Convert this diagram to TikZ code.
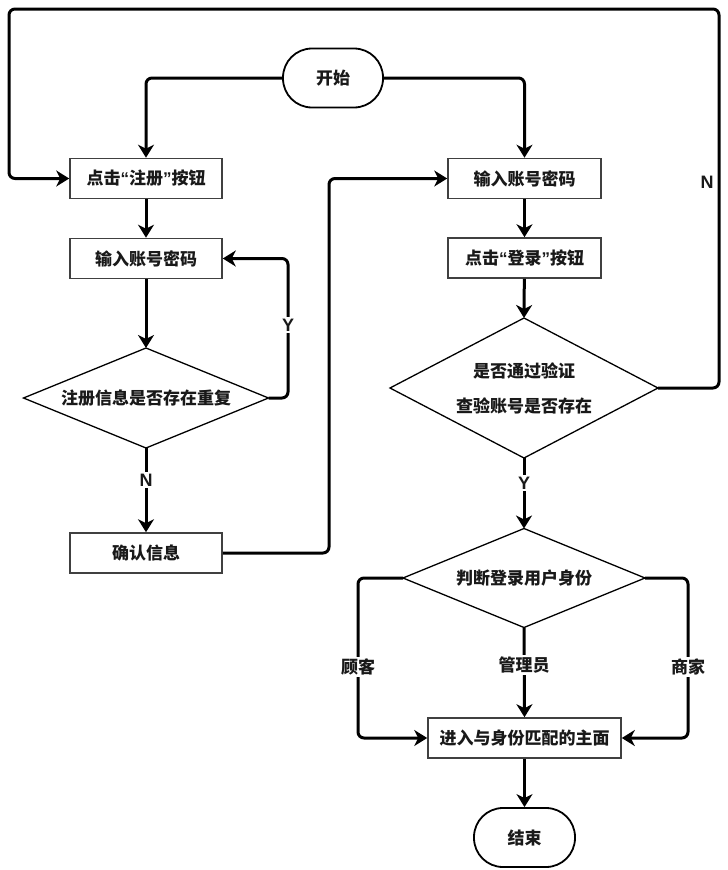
\documentclass[tikz,border=0pt]{standalone}
\usepackage{fontspec}
\setmainfont{Noto Sans CJK SC}
\newfontfamily\latf{Liberation Sans}
\usetikzlibrary{shapes.geometric,arrows.meta,calc}
\newcommand{\openq}{{\latf\bfseries “}}
\newcommand{\closeq}{{\latf\bfseries ”}}
\begin{document}
\begin{tikzpicture}[x=1pt,y=-1pt,
  every node/.style={font=\fontsize{17}{21}\selectfont\bfseries, text=black!90},
  box/.style={draw=black!75, line width=1.6pt, fill=white, minimum width=152pt, minimum height=40pt, inner sep=0pt},
  term/.style={draw=black, line width=1.8pt, fill=white, rounded corners=29pt, minimum width=100pt, minimum height=59pt, inner sep=0pt},
  dia/.style={draw=black, line width=1.3pt, fill=white, diamond, inner sep=0pt, outer sep=0pt},
  conn/.style={draw=black, line width=3pt, rounded corners=6pt, -{Stealth[length=13pt,width=16pt,inset=4pt]}},
  lbl/.style={fill=white, inner sep=2pt},
  yn/.style={font=\latf\fontsize{18}{21}\selectfont\bfseries}]
\useasboundingbox (0,0) rectangle (728,870);

% shapes
\node[term] (start) at (333,78) {开始};
\node[box] (reg) at (146,178.5) {点击\openq 注册\closeq 按钮};
\node[box] (inL) at (146,258.5) {输入账号密码};
\node[dia, minimum width=245pt, minimum height=100pt] (dup) at (146,398) {};
\node (dupT) at (dup.center) {注册信息是否存在重复};
\node[box] (conf) at (146,553) {确认信息};
\node[box, minimum width=153pt] (inR) at (524.5,178.5) {输入账号密码};
\node[box, minimum width=153pt] (login) at (524.5,258) {点击\openq 登录\closeq 按钮};
\node[dia, minimum width=268pt, minimum height=140pt] (ver) at (524,388) {};
\node[align=center] (verT) at (ver.center) {是否通过验证\\[14pt]查验账号是否存在};
\node[dia, minimum width=242pt, minimum height=99pt] (role) at (524,578) {};
\node (roleT) at (role.center) {判断登录用户身份};
\node[box, minimum width=193pt] (main) at (524.5,738) {进入与身份匹配的主面};
\node[term, minimum width=101pt] (end) at (524.5,837.5) {结束};

% routing points
\coordinate (yl) at (288,0);
\coordinate (jr) at (329,0);
\coordinate (tr) at (719,9);
\coordinate (tl) at (9,9);
\coordinate (gl) at (358,0);
\coordinate (gr) at (688,0);

% connectors
\draw[conn] (start.west) -| (reg.north);
\draw[conn] (start.east) -| (inR.north);
\draw[conn] (reg) -- (inL);
\draw[conn] (inL) -- (dup.north);
\draw[conn] (dup.south) -- (conf.north);
\draw[conn] (dup.east) -| (yl |- inL.east) -- (inL.east);
\draw[conn] (conf.east) -| (jr |- inR.west) -- (inR.west);
\draw[conn] (inR) -- (login);
\draw[conn] (login) -- (ver.north);
\draw[conn] (ver.east) -| (tr) -- (tl) |- (reg.west);
\draw[conn] (ver.south) -- (role.north);
\draw[conn] (role.west) -| (gl |- main.west) -- (main.west);
\draw[conn] (role.south) -- (main.north);
\draw[conn] (role.east) -| (gr |- main.east) -- (main.east);
\draw[conn] (main) -- (end);

% branch labels
\node[lbl, yn] (nDup) at (146,480) {N};
\node[lbl, yn] (yDup) at (288,325) {Y};
\node[yn] (nVer) at (707,182) {N};
\node[lbl, yn] (yVer) at (524,483) {Y};
\node[lbl] (gk) at (358,667) {顾客};
\node[lbl] (gly) at (524,665) {管理员};
\node[lbl] (sj) at (688,667) {商家};
\end{tikzpicture}
\end{document}
